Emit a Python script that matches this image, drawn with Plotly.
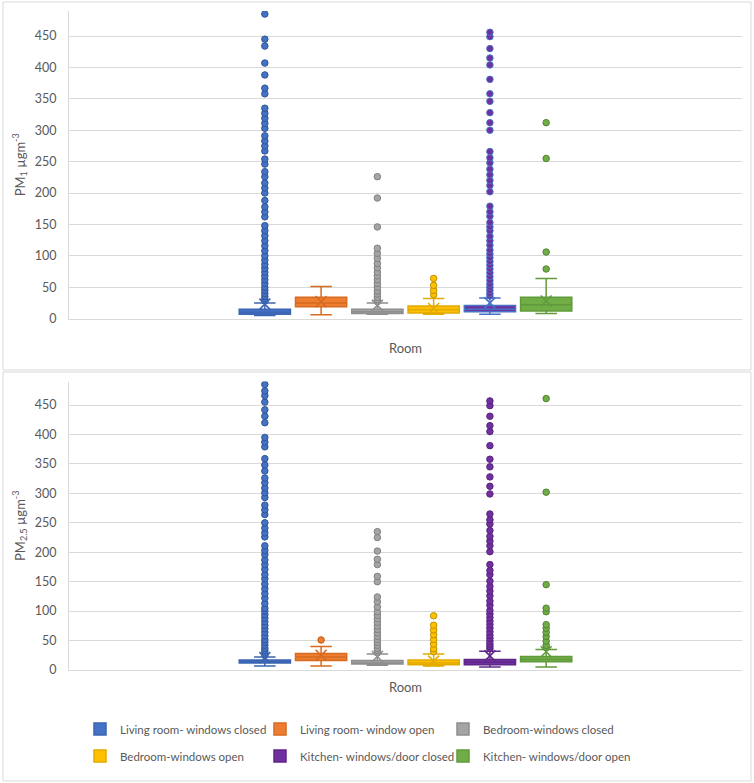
import plotly.graph_objects as go

# ---------------- data ----------------
series_names = ["Living room- windows closed", "Living room- window open", "Bedroom-windows closed",
                "Bedroom-windows open", "Kitchen- windows/door closed", "Kitchen- windows/door open"]
category = "Room"

# PM1 panel (top)
pm1_q1 = [7, 19, 8, 9, 11, 12]
pm1_median = [10, 25, 11, 14, 15, 22]
pm1_q3 = [15, 34, 15, 20, 21, 34]
pm1_lower = [5, 6, 7, 7, 7, 8]
pm1_upper = [25, 51, 25, 32, 33, 64]
pm1_mean = [23, 27, 21, 16, 25, 28]
pm1_out_living_closed = [485, 445, 434, 407, 388, 367, 358, 335, 327, 319, 311, 303, 291, 283, 275, 267,
                         254, 246, 234, 226, 216, 208, 200, 188, 178, 170, 162, 148, 140, 132, 124, 116,
                         108, 100, 93, 86, 80, 74, 68, 62, 56, 50, 45, 40, 35, 31, 28]
pm1_out_living_open = []
pm1_out_bed_closed = [226, 192, 146, 112, 104, 96, 88, 81, 74, 68, 62, 56, 50, 44, 39, 34, 30, 27]
pm1_out_bed_open = [64, 53, 45, 38]
pm1_out_kit_closed = [456, 449, 430, 415, 404, 381, 358, 346, 328, 312, 300, 266, 256, 248, 238, 229,
                      220, 212, 202, 179, 170, 163, 153, 146, 140, 131, 124, 117, 109, 103, 97, 91, 85,
                      79, 73, 67, 61, 55, 50, 45, 40, 36]
pm1_out_kit_open = [312, 255, 106, 79]

# PM2.5 panel (bottom)
pm25_q1 = [12, 16, 10, 9, 9, 14]
pm25_median = [14, 22, 12, 12, 13, 18]
pm25_q3 = [17, 28, 16, 17, 18, 23]
pm25_lower = [7, 7, 8, 7, 5, 5]
pm25_upper = [22, 40, 27, 27, 32, 35]
pm25_mean = [21, 25, 23, 15, 24, 31]
pm25_out_living_closed = [485, 474, 466, 455, 442, 431, 420, 395, 387, 379, 359, 348, 338, 326, 318, 309,
                          301, 293, 280, 272, 264, 250, 241, 233, 226, 211, 203, 196, 187, 179, 171, 162,
                          155, 146, 138, 130, 122, 113, 105, 100, 94, 88, 82, 76, 70, 64, 58, 52, 47,
                          42, 37, 33, 29, 25]
pm25_out_living_open = [51]
pm25_out_bed_closed = [235, 225, 202, 188, 179, 159, 150, 124, 116, 107, 99, 93, 87, 81, 75, 69, 63,
                       57, 52, 47, 42, 37, 33, 29]
pm25_out_bed_open = [92, 76, 68, 60, 52, 44, 36, 31]
pm25_out_kit_closed = [457, 449, 431, 415, 405, 381, 358, 345, 328, 312, 299, 265, 255, 248, 237, 227,
                       219, 211, 201, 179, 169, 162, 151, 142, 134, 126, 117, 110, 101, 95, 89, 83, 77,
                       71, 65, 59, 54, 49, 44, 40, 36]
pm25_out_kit_open = [461, 302, 145, 105, 99, 77, 71, 64, 57, 49, 42, 38]

pm1_outliers = [pm1_out_living_closed, pm1_out_living_open, pm1_out_bed_closed,
                pm1_out_bed_open, pm1_out_kit_closed, pm1_out_kit_open]
pm25_outliers = [pm25_out_living_closed, pm25_out_living_open, pm25_out_bed_closed,
                 pm25_out_bed_open, pm25_out_kit_closed, pm25_out_kit_open]

y_ticks = [0, 50, 100, 150, 200, 250, 300, 350, 400, 450]

# ---------------- styles ----------------
fills = ["#4472C4", "#ED7D31", "#A5A5A5", "#FFC000", "#7030A0", "#70AD47"]
lines_bottom = ["#3B65B3", "#D86B22", "#8E8E8E", "#E3AB00", "#60278A", "#609A3B"]
lines_top = ["#3B65B3", "#D86B22", "#8E8E8E", "#E3AB00", "#4472C4", "#609A3B"]
pt_line_top = ["#2F5597", "#C55A11", "#7F7F7F", "#BF9000", "#4472C4", "#548235"]
pt_line_bottom = ["#2F5597", "#C55A11", "#7F7F7F", "#BF9000", "#5A2480", "#548235"]
legend_ids = ["legend", "legend2", "legend3", "legend4", "legend5", "legend6"]
legend_x_px = [80, 260, 443, 80, 260, 443]
legend_y_px = [729, 729, 729, 756, 756, 756]

FONT = "Lato"
TXT = "#595959"

fig = go.Figure()


def add_panel(xa, ya, q1, med, q3, lo, hi, mean, outliers, line_cols, pt_lines, legend):
    for i, name in enumerate(series_names):
        og = f"{ya}_{i}"
        fig.add_trace(go.Box(
            x=[category], q1=[q1[i]], median=[med[i]], q3=[q3[i]],
            lowerfence=[lo[i]], upperfence=[hi[i]],
            name=name, offsetgroup=og, xaxis=xa, yaxis=ya,
            fillcolor=fills[i], line=dict(color=line_cols[i], width=1.5),
            whiskerwidth=0.42, boxpoints=False, showlegend=legend,
            legend=legend_ids[i], hoverinfo="skip"))
        if outliers[i]:
            fig.add_trace(go.Box(
                x=[category] * len(outliers[i]), y=outliers[i], name=name,
                offsetgroup=og, xaxis=xa, yaxis=ya,
                boxpoints="all", jitter=0, pointpos=0,
                fillcolor="rgba(0,0,0,0)", line=dict(color="rgba(0,0,0,0)", width=0),
                marker=dict(color=fills[i], size=6.5, line=dict(color=pt_lines[i], width=1)),
                showlegend=False, hoverinfo="y"))
        fig.add_trace(go.Box(
            x=[category], y=[mean[i]], name=name,
            offsetgroup=og, xaxis=xa, yaxis=ya,
            boxpoints="all", jitter=0, pointpos=0,
            fillcolor="rgba(0,0,0,0)", line=dict(color="rgba(0,0,0,0)", width=0),
            marker=dict(symbol="x-thin", color=line_cols[i], size=11,
                        line=dict(color=line_cols[i], width=1.6)),
            showlegend=False, hoverinfo="y"))


add_panel("x", "y", pm1_q1, pm1_median, pm1_q3, pm1_lower, pm1_upper, pm1_mean,
          pm1_outliers, lines_top, pt_line_top, False)
add_panel("x2", "y2", pm25_q1, pm25_median, pm25_q3, pm25_lower, pm25_upper, pm25_mean,
          pm25_outliers, lines_bottom, pt_line_bottom, True)

W, H = 754, 783
x_dom = [69 / W, 742 / W]
top_dom = [1 - 318.6 / H, 1 - 10.9 / H]
bot_dom = [1 - 670 / H, 1 - 381.5 / H]

yax = dict(range=[0, 490], tickvals=y_ticks, showgrid=True, gridcolor="#D9D9D9", gridwidth=1,
           showline=True, linecolor="#D9D9D9", linewidth=1, zeroline=False, ticks="",
           ticklabelstandoff=9, tickfont=dict(family=FONT, size=12.5, color=TXT),
           automargin=False)
xax = dict(showticklabels=False, showgrid=False, showline=True, linecolor="#D9D9D9", linewidth=1,
           zeroline=False, ticks="", automargin=False, fixedrange=True)

legends = {}
for lid, lx, ly in zip(legend_ids, legend_x_px, legend_y_px):
    legends[lid] = dict(orientation="h", x=lx / W, xanchor="left", y=1 - ly / H, yanchor="middle",
                        itemwidth=30, font=dict(family=FONT, size=11.5, color=TXT),
                        bgcolor="rgba(0,0,0,0)")

fig.update_layout(
    width=W, height=H, autosize=False,
    margin=dict(l=0, r=0, t=0, b=0),
    paper_bgcolor="white", plot_bgcolor="white",
    boxmode="group", boxgap=0.49, boxgroupgap=0.09,
    font=dict(family=FONT, color=TXT),
    xaxis=dict(domain=x_dom, anchor="y",
               title=dict(text="Room", standoff=25, font=dict(family=FONT, size=13, color=TXT)), **xax),
    yaxis=dict(domain=top_dom, anchor="x",
               title=dict(text="PM<sub>1</sub> µgm<sup>-3</sup>", standoff=6,
                          font=dict(family=FONT, size=13, color=TXT)), **yax),
    xaxis2=dict(domain=x_dom, anchor="y2",
                title=dict(text="Room", standoff=12, font=dict(family=FONT, size=13, color=TXT)), **xax),
    yaxis2=dict(domain=bot_dom, anchor="x2",
                title=dict(text="PM<sub>2.5</sub> µgm<sup>-3</sup>", standoff=6,
                           font=dict(family=FONT, size=13, color=TXT)), **yax),
    showlegend=True,
    shapes=[
        dict(type="rect", xref="paper", yref="paper", x0=3 / W, x1=751 / W, y0=1 - 370 / H, y1=1 - 2 / H,
             line=dict(color="#D9D9D9", width=1), fillcolor="rgba(0,0,0,0)", layer="below"),
        dict(type="rect", xref="paper", yref="paper", x0=3 / W, x1=751 / W, y0=1 - 781 / H, y1=1 - 372 / H,
             line=dict(color="#D9D9D9", width=1), fillcolor="rgba(0,0,0,0)", layer="below"),
    ],
    **legends,
)

fig.write_html("out.html", config={"displayModeBar": False},
               post_script="document.body.style.margin='0';document.body.style.padding='0';"
                           "document.body.style.overflow='hidden';")
